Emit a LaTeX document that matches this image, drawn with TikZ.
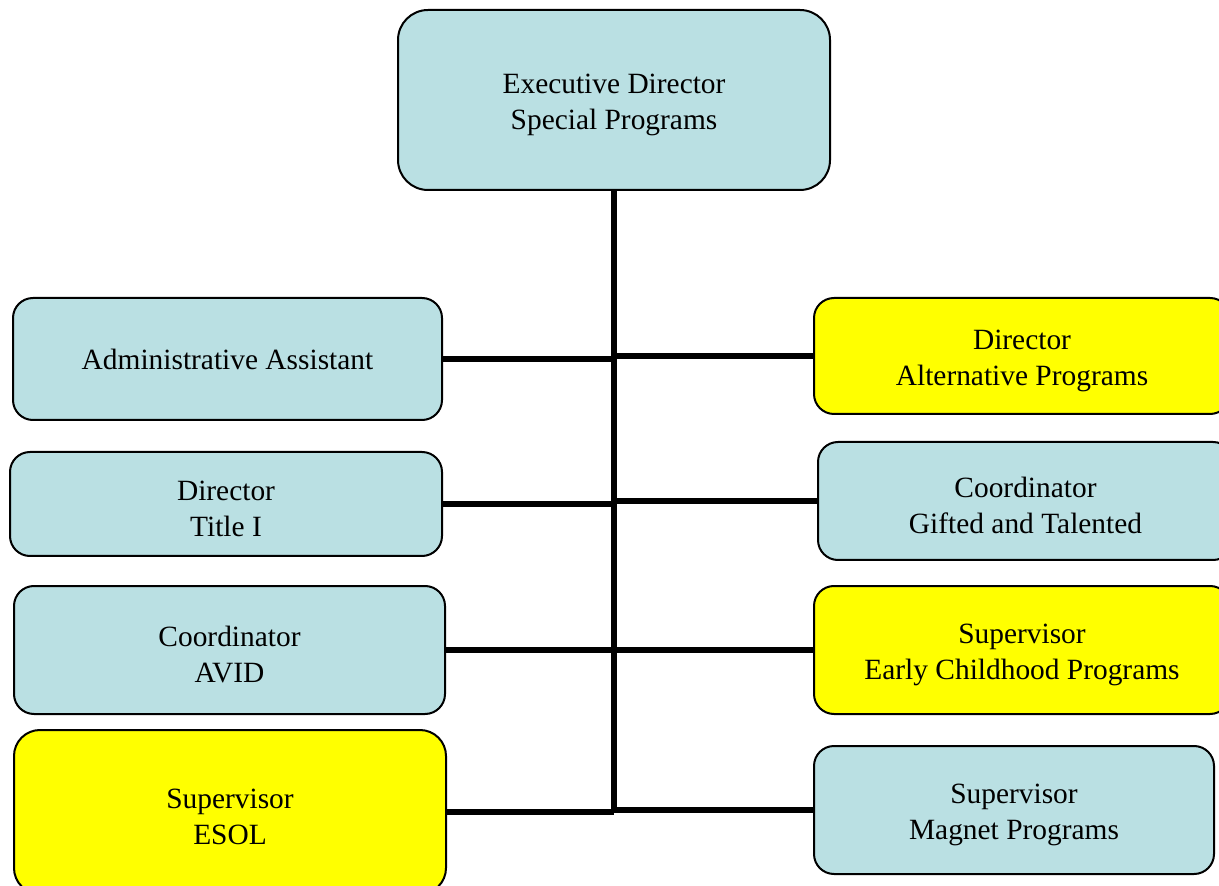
\documentclass[tikz,border=0pt]{standalone}
\usepackage{fontspec}
\setmainfont{Liberation Serif}
\definecolor{boxblue}{RGB}{186,224,227}
\definecolor{boxyellow}{RGB}{255,255,0}
\tikzset{
  post/.style={draw=black, line width=1pt, rounded corners=10pt, fill=boxblue,
    align=center, inner sep=0pt, text height=33pt, font=\fontsize{14.7}{18}\selectfont},
  hilite/.style={post, fill=boxyellow},
  link/.style={line width=3pt},
}

\begin{document}
\begin{tikzpicture}[x=0.5pt,y=-0.5pt]
\useasboundingbox (0,0) rectangle (1219,886);

\node[post, rounded corners=15pt, minimum width=216pt, minimum height=90pt] (exec) at (614,100) {Executive Director\\Special Programs};

\node[post, text height=11pt, minimum width=214.5pt, minimum height=61pt] (admin) at (227.5,359) {Administrative Assistant};
\node[post, minimum width=216pt, minimum height=52pt] (title) at (226,504) {Director\\Title I};
\node[post, minimum width=215.5pt, minimum height=64pt] (avid) at (229.5,650) {Coordinator\\AVID};
\node[hilite, rounded corners=13pt, minimum width=216pt, minimum height=82pt] (esol) at (230,812) {Supervisor\\ESOL};

\node[hilite, minimum width=208pt, minimum height=58pt] (alt) at (1022,356) {Director\\Alternative Programs};
\node[post, minimum width=207.5pt, minimum height=59pt] (gifted) at (1025.5,501) {Coordinator\\Gifted and Talented};
\node[hilite, minimum width=208pt, minimum height=64pt] (early) at (1022,650) {Supervisor\\Early Childhood Programs};
\node[post, minimum width=200pt, minimum height=64pt] (magnet) at (1014,810) {Supervisor\\Magnet Programs};

\coordinate (trunkend) at (614,811.5);

\draw[link] (exec.south) -- (trunkend);
\foreach \n in {alt,gifted,early,magnet}
  \draw[link] (\n.west -| trunkend) -- (\n.west);
\foreach \n in {admin,title,avid,esol}
  \draw[link] (\n.east) -- (\n.east -| trunkend);
\end{tikzpicture}
\end{document}
